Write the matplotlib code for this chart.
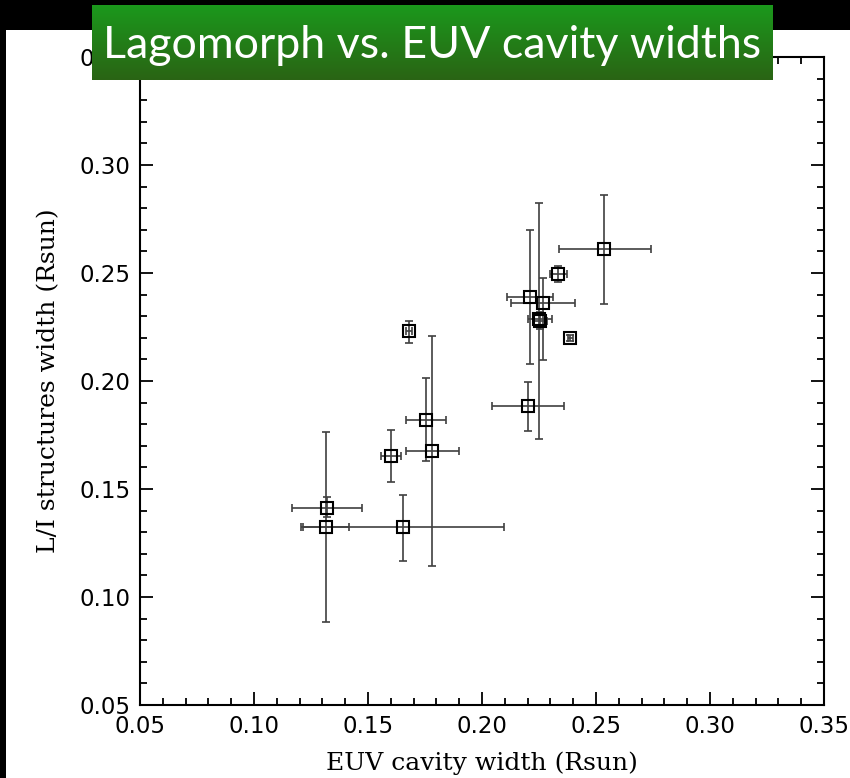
"""
Lagomorph vs. EUV cavity widths: scatter with asymmetric error bars
"""

import matplotlib
matplotlib.use("Agg")
import matplotlib.pyplot as plt
import numpy as np
from matplotlib.patches import Rectangle
from matplotlib.ticker import MultipleLocator

# measured widths (Rsun) and error-bar bounds
euv_width = np.array([0.2536, 0.2334, 0.2212, 0.2267, 0.2251, 0.2256, 0.2387, 0.1680,
                      0.2200, 0.1755, 0.1781, 0.1599, 0.1318, 0.1317, 0.1652])
euv_lo = np.array([0.2336, 0.2298, 0.2108, 0.2127, 0.2203, 0.2225, 0.2375, 0.1665,
                   0.2042, 0.1668, 0.1665, 0.1555, 0.1165, 0.1206, 0.1215])
euv_hi = np.array([0.2741, 0.2374, 0.2313, 0.2409, 0.2305, 0.2285, 0.2399, 0.1695,
                   0.2360, 0.1843, 0.1897, 0.1644, 0.1474, 0.1418, 0.2098])
li_width = np.array([0.2609, 0.2497, 0.2389, 0.2363, 0.2286, 0.2280, 0.2199, 0.2230,
                     0.1884, 0.1819, 0.1677, 0.1653, 0.1414, 0.1325, 0.1322])
li_lo = np.array([0.2357, 0.2459, 0.2080, 0.2097, 0.1732, 0.2240, 0.2185, 0.2178,
                  0.1770, 0.1629, 0.1144, 0.1531, 0.1369, 0.0883, 0.1167])
li_hi = np.array([0.2861, 0.2533, 0.2698, 0.2477, 0.2826, 0.2320, 0.2213, 0.2278,
                  0.1995, 0.2013, 0.2210, 0.1774, 0.1461, 0.1764, 0.1474])

TITLE = "Lagomorph vs. EUV cavity widths"

W, H = 850, 778
fig = plt.figure(figsize=(W / 100, H / 100), dpi=100, facecolor="black")

# white slide area behind everything
bg = fig.add_axes([0, 0, 1, 1], zorder=-10)
bg.set_xlim(0, W)
bg.set_ylim(H, 0)
bg.set_axis_off()
bg.add_patch(Rectangle((6, 30), W - 6, H - 30, facecolor="white", edgecolor="none"))

ax = fig.add_axes([140 / W, 1 - 705 / H, (824 - 140) / W, (705 - 57) / H], zorder=1)
ax.set_facecolor("white")

ax.errorbar(euv_width, li_width,
            xerr=[euv_width - euv_lo, euv_hi - euv_width],
            yerr=[li_width - li_lo, li_hi - li_width],
            fmt="none", ecolor="#404040", elinewidth=1.2, capsize=3, capthick=1.2)
ax.plot(euv_width, li_width, linestyle="none", marker="s", markersize=8,
        markerfacecolor="none", markeredgecolor="black", markeredgewidth=1.5)

ax.set_xlim(0.05, 0.35)
ax.set_ylim(0.05, 0.35)
ax.xaxis.set_major_locator(MultipleLocator(0.05))
ax.xaxis.set_minor_locator(MultipleLocator(0.01))
ax.yaxis.set_major_locator(MultipleLocator(0.05))
ax.yaxis.set_minor_locator(MultipleLocator(0.01))
ax.xaxis.set_major_formatter(plt.FormatStrFormatter("%.2f"))
ax.yaxis.set_major_formatter(plt.FormatStrFormatter("%.2f"))
ax.tick_params(which="both", direction="in", top=True, right=True, width=1.3,
               color="black")
ax.tick_params(which="major", length=9.5)
ax.tick_params(which="minor", length=5)
ax.tick_params(axis="x", labelsize=16.5, pad=7)
ax.tick_params(axis="y", labelsize=16.5, pad=7)
for lab in ax.get_xticklabels() + ax.get_yticklabels():
    lab.set_fontfamily("DejaVu Sans")
for sp in ax.spines.values():
    sp.set_linewidth(1.5)

ax.set_xlabel("EUV cavity width (Rsun)", fontsize=18, family="DejaVu Serif",
              labelpad=10)
ax.set_ylabel("L/I structures width (Rsun)", fontsize=18, family="DejaVu Serif",
              labelpad=14)

# green title banner with vertical gradient
bx = fig.add_axes([92 / W, 1 - 80 / H, (773 - 92) / W, (80 - 5) / H], zorder=5)
top = np.array([27, 152, 28]) / 255
bot = np.array([42, 100, 20]) / 255
t = np.linspace(0, 1, 64)[:, None]
grad = top[None, :] * (1 - t) + bot[None, :] * t
bx.imshow(grad[:, None, :], aspect="auto", extent=[0, 1, 0, 1])
bx.set_axis_off()
bx.text(0.5, 0.46, TITLE, transform=bx.transAxes, ha="center", va="center",
        color="white", fontsize=32.2, family="Lato")

fig.savefig("out.png", dpi=100, facecolor=fig.get_facecolor())
